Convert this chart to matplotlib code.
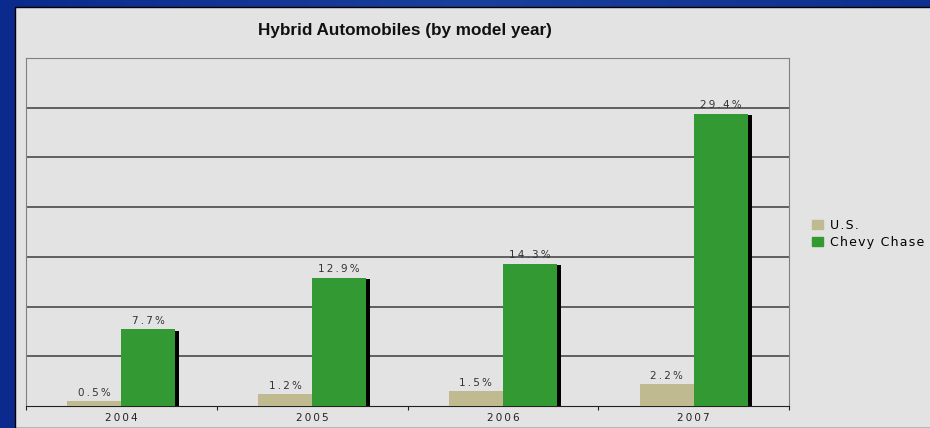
import numpy as np
import matplotlib.pyplot as plt
from matplotlib.patches import Rectangle

years = ['2004', '2005', '2006', '2007']
us = [0.5, 1.2, 1.5, 2.2]
chevy_chase = [7.7, 12.9, 14.3, 29.4]
series_names = ['U.S.', 'Chevy Chase']

plt.rcParams['font.family'] = ['Liberation Sans', 'DejaVu Sans']
WIDE = 'DejaVu Sans'


def spaced(s, sep='\u2009'):
    # the slide text looks stretched, so spread the letters a bit
    return sep.join(s)


fig = plt.figure(figsize=(9.3, 4.28), dpi=100)

# blue slide background
bg = fig.add_axes([0, 0, 1, 1], zorder=-10)
grad = np.linspace(0, 1, 256).reshape(1, -1)
bg.imshow(np.vstack([grad] * 4), aspect='auto', extent=[0, 1, 0, 1],
          cmap=plt.matplotlib.colors.LinearSegmentedColormap.from_list('b', ['#0b2a8e', '#1a3f9c', '#0e2f8f']))
bg.set_xlim(0, 1)
bg.set_ylim(0, 1)
bg.axis('off')

# grey chart area
fig.patches.append(Rectangle((15 / 930, 0), 1, 1 - 7 / 428, transform=fig.transFigure,
                             facecolor='#e3e3e3', edgecolor='black', lw=1, zorder=-5))

ax = fig.add_axes([26 / 930, 22 / 428, (789 - 26) / 930, (406 - 58) / 428])
ax.set_facecolor('#e3e3e3')

x = np.arange(len(years))
w = 0.283
off = w / 2

ax.bar(x - off, us, w, color='#c0ba90', zorder=3)
ax.bar(x + off + 0.021, np.array(chevy_chase) - 0.15, w, color='black', zorder=2)
ax.bar(x + off, chevy_chase, w, color='#339933', zorder=3)

for xi, v in zip(x, us):
    ax.text(xi - off, v + 0.35, spaced(f'{v:.1f}%'), ha='center', va='bottom',
            fontsize=7.5, family=WIDE, color='#333333', zorder=4)
for xi, v in zip(x, chevy_chase):
    ax.text(xi + off, v + 0.35, spaced(f'{v:.1f}%'), ha='center', va='bottom',
            fontsize=7.5, family=WIDE, color='#333333', zorder=4)

ax.set_xlim(-0.5, len(years) - 0.5)
ax.set_ylim(0, 35)
ax.set_yticks(np.arange(5, 35, 5))
ax.yaxis.grid(True, color='#4a4a4a', lw=1.2)
ax.tick_params(axis='y', length=0, labelleft=False)
ax.set_axisbelow(True)

ax.set_xticks(np.arange(-0.5, len(years), 1))
ax.set_xticklabels([])
ax.set_xticks(x, minor=True)
ax.set_xticklabels([spaced(y) for y in years], minor=True, fontsize=7.5, family=WIDE, color='#222222')
ax.tick_params(axis='x', which='major', length=3, color='#222222', direction='out')
ax.tick_params(axis='x', which='minor', length=0, pad=5)

for s in ['left', 'top', 'right']:
    ax.spines[s].set_color('#808080')
ax.spines['bottom'].set_color('#222222')

fig.text(405 / 930, 1 - 31 / 428, 'Hybrid Automobiles (by model year)', ha='center', va='center',
         fontsize=12.3, fontweight='bold', color='#111111')

handles = [Rectangle((0, 0), 1, 1, color='#c0ba90'), Rectangle((0, 0), 1, 1, color='#339933')]
fig.legend(handles, [spaced(n, '\u200a') for n in series_names], loc='upper left',
           bbox_to_anchor=(807 / 930, 1 - 214 / 428),
           frameon=False, prop={'family': WIDE, 'size': 9}, handlelength=0.9, handleheight=0.8,
           handletextpad=0.5, labelspacing=0.3, borderaxespad=0)

fig.savefig('out.png', dpi=100)
